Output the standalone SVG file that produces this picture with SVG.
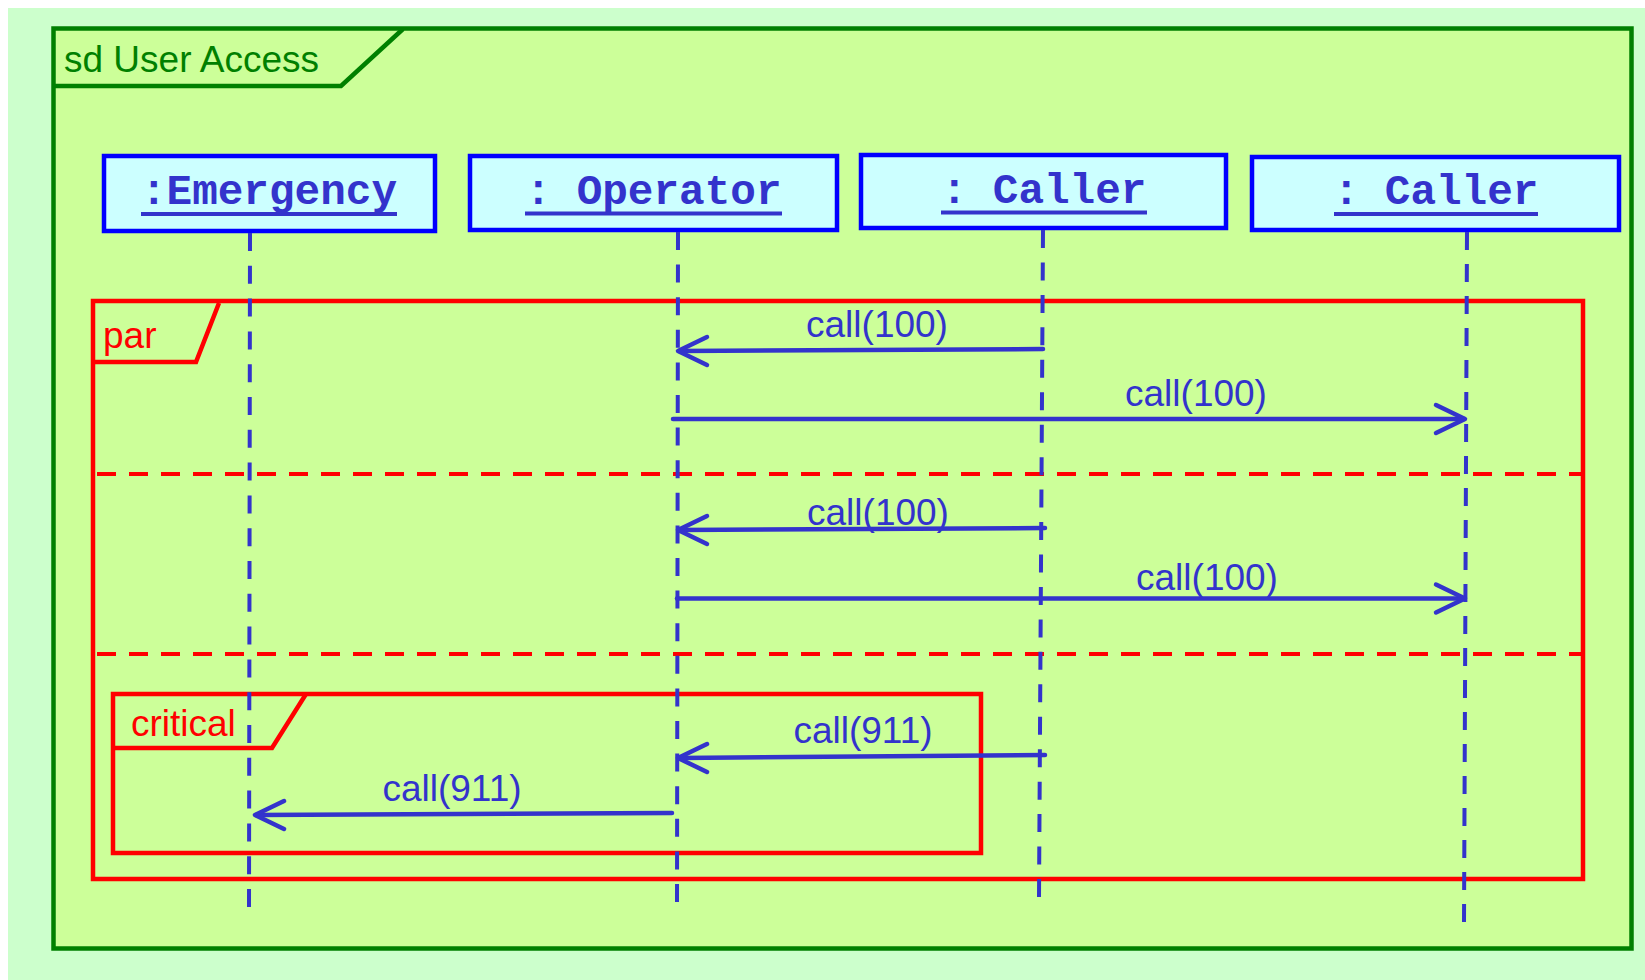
<svg xmlns="http://www.w3.org/2000/svg" width="1645" height="980" viewBox="0 0 1645 980">
<style>
.frame{fill:#CCFF99;stroke:#008000;stroke-width:4.5}
.frametab{fill:none;stroke:#008000;stroke-width:4.5}
.frametxt{font-family:"Liberation Sans",Arial,sans-serif;font-size:37px;fill:#008000}
.box{fill:#CCFFFF;stroke:#0000FF;stroke-width:4.5}
.name{font-family:"Liberation Mono","Courier New",monospace;font-weight:bold;font-size:42.7px;fill:#3333CC;text-anchor:middle}
.uline{stroke:#3333CC;stroke-width:4}
.life{stroke:#3333CC;stroke-width:4;stroke-dasharray:18 14;fill:none}
.frag{fill:none;stroke:#FF0000;stroke-width:4.5}
.fragtxt{font-family:"Liberation Sans",Arial,sans-serif;font-size:37px;fill:#FF0000}
.div{stroke:#FF0000;stroke-width:4;stroke-dasharray:19 13}
.msg{stroke:#3333CC;stroke-width:4.5;fill:none;stroke-linecap:round;stroke-linejoin:round}
.msgtxt{font-family:"Liberation Sans",Arial,sans-serif;font-size:37px;fill:#3333CC;text-anchor:middle}
</style>
<rect x="8" y="8" width="1637" height="972" fill="#CCFFCC"/>
<g id="frame">
<rect class="frame" x="53.5" y="28.5" width="1578" height="920"/>
<path class="frametab" d="M53.5,86 L341,86 L403,29"/>
<text class="frametxt" x="64" y="72">sd User Access</text>
</g>
<g id="par">
<rect class="frag" x="93" y="301" width="1490" height="578"/>
<path class="frag" d="M93,362 L196,362 L219,303"/>
<text class="fragtxt" x="103" y="348">par</text>
<line class="div" x1="97" y1="474" x2="1583" y2="474"/>
<line class="div" x1="97" y1="654" x2="1583" y2="654"/>
</g>
<g id="critical">
<rect class="frag" x="113" y="694" width="868" height="159"/>
<path class="frag" d="M113,748 L272,748 L306,694"/>
<text class="fragtxt" x="131" y="736">critical</text>
</g>
<g id="emergency">
<rect class="box" x="104" y="156" width="331" height="75"/>
<text class="name" x="269" y="204">:Emergency</text>
<line class="uline" x1="141" y1="214" x2="397" y2="214"/>
<line class="life" style="stroke-dasharray:18 14.8" x1="250" y1="233" x2="249" y2="907"/>
</g>
<g id="operator">
<rect class="box" x="470" y="156" width="367" height="74"/>
<text class="name" x="653.5" y="203.5">: Operator</text>
<line class="uline" x1="525" y1="213.5" x2="782" y2="213.5"/>
<line class="life" style="stroke-dasharray:18 14.6" x1="678" y1="232" x2="677" y2="902"/>
</g>
<g id="caller1">
<rect class="box" x="861" y="155" width="365" height="73"/>
<text class="name" x="1044" y="202.5">: Caller</text>
<line class="uline" x1="941" y1="212.5" x2="1147" y2="212.5"/>
<line class="life" style="stroke-dasharray:18 14.45" x1="1043" y1="230" x2="1039" y2="897"/>
</g>
<g id="caller2">
<rect class="box" x="1252" y="157" width="367" height="73"/>
<text class="name" x="1436" y="204">: Caller</text>
<line class="uline" x1="1334" y1="214" x2="1538" y2="214"/>
<line class="life" x1="1467" y1="232" x2="1464" y2="922"/>
</g>
<g id="connectors">
<line class="msg" x1="1043" y1="349" x2="679" y2="351"/>
<polyline class="msg" points="707,337 678,351 707,365"/>
<text class="msgtxt" x="877" y="337">call(100)</text>
<line class="msg" x1="673" y1="419" x2="1464" y2="419"/>
<polyline class="msg" points="1436,405 1465,419 1436,433"/>
<text class="msgtxt" x="1196" y="406">call(100)</text>
<line class="msg" x1="1045" y1="528" x2="679" y2="530"/>
<polyline class="msg" points="707,516 678,530 707,544"/>
<text class="msgtxt" x="878" y="525">call(100)</text>
<line class="msg" x1="677" y1="598.5" x2="1464" y2="598.5"/>
<polyline class="msg" points="1436,584.5 1465,598.5 1436,612.5"/>
<text class="msgtxt" x="1207" y="590">call(100)</text>
<line class="msg" x1="1045" y1="755" x2="679" y2="758"/>
<polyline class="msg" points="707,744 678,758 707,772"/>
<text class="msgtxt" x="863" y="743">call(911)</text>
<line class="msg" x1="672" y1="813" x2="256" y2="815"/>
<polyline class="msg" points="284,801 255,815 284,829"/>
<text class="msgtxt" x="452" y="801">call(911)</text>
</g>
</svg>
